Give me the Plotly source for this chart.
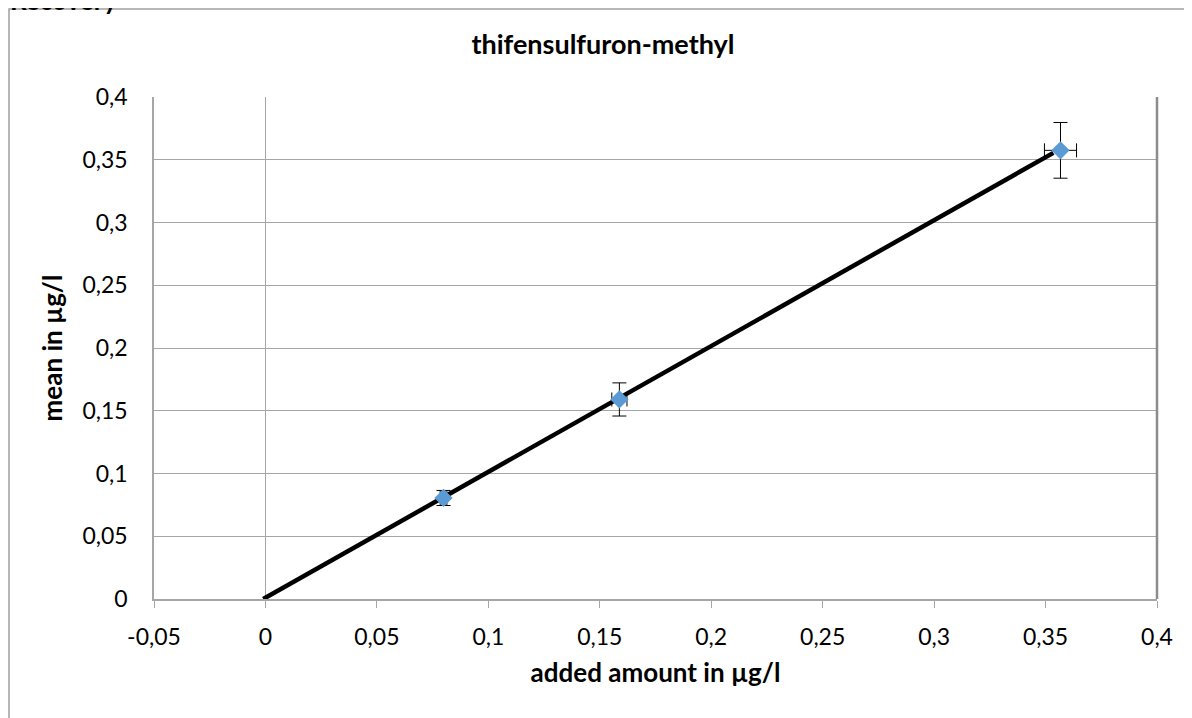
import plotly.graph_objects as go

# --- data ---
added = [0.0799, 0.1588, 0.3567]
mean = [0.0805, 0.1590, 0.3575]
err_y = [0.0060, 0.0132, 0.0222]
err_x = [0.0015, 0.0034, 0.0072]

fit_x = [-0.001, 0.3535]
fit_y = [0.0, 0.3555]

x_ticks = [-0.05, 0, 0.05, 0.1, 0.15, 0.2, 0.25, 0.3, 0.35, 0.4]
x_labels = ["-0,05", "0", "0,05", "0,1", "0,15", "0,2", "0,25", "0,3", "0,35", "0,4"]
y_ticks = [0, 0.05, 0.1, 0.15, 0.2, 0.25, 0.3, 0.35, 0.4]
y_labels = ["0", "0,05", "0,1", "0,15", "0,2", "0,25", "0,3", "0,35", "0,4"]

FONT = "Lato"
GRID = "#a6a6a6"

# the page puts the figure 8px in from the top-left corner
W, H = 1184, 710
ML, MT, MR, MB = 146, 89, 35, 119
pw, ph = W - ML - MR, H - MT - MB

fig = go.Figure()
fig.add_trace(go.Scatter(
    x=fit_x, y=fit_y, mode="lines",
    line=dict(color="black", width=4.5), hoverinfo="skip", showlegend=False
))
fig.add_trace(go.Scatter(
    x=added, y=mean, mode="markers",
    marker=dict(symbol="diamond", size=14, color="#5b9bd5"),
    error_y=dict(type="data", array=err_y, color="black", thickness=1, width=7),
    error_x=dict(type="data", array=err_x, color="black", thickness=1, width=7),
    showlegend=False
))

# chart-area frame (runs off the right and bottom edge) and cut-off heading
fig.add_shape(type="rect", xref="paper", yref="paper",
              x0=(1 - ML) / pw, x1=(W + 20 - ML) / pw,
              y0=(MT + ph - (H + 20)) / ph, y1=(MT + ph - 1) / ph,
              line=dict(color="#a0a0a0", width=1.5), layer="below")
fig.add_annotation(text="<b>Recovery</b>", xref="paper", yref="paper",
                   x=(0 - ML) / pw, y=(MT + ph - 10) / ph, xanchor="left", yanchor="bottom",
                   showarrow=False, font=dict(family=FONT, size=26, color="black"))

fig.update_layout(
    width=W, height=H,
    margin=dict(l=ML, r=MR, t=MT, b=MB),
    paper_bgcolor="white", plot_bgcolor="white",
    font=dict(family=FONT, size=23, color="black"),
    title=dict(text="<b>thifensulfuron-methyl</b>", x=595 / W, xanchor="center",
               y=1 - 37 / H, yanchor="middle", font=dict(size=27)),
    xaxis=dict(
        range=[-0.05, 0.4], tickvals=x_ticks, ticktext=x_labels,
        showgrid=False, zeroline=True, zerolinecolor=GRID, zerolinewidth=1,
        showline=True, linecolor=GRID, linewidth=1.5,
        ticks="outside", ticklen=7, tickcolor=GRID, ticklabelstandoff=10,
        title=dict(text="<b>added amount in µg/l</b>", font=dict(size=26), standoff=14),
    ),
    yaxis=dict(
        range=[0, 0.4], tickvals=y_ticks, ticktext=y_labels,
        showgrid=True, gridcolor=GRID, gridwidth=1, zeroline=False,
        showline=True, linecolor=GRID, linewidth=1.5,
        ticks="", ticklabelstandoff=20,
        title=dict(text="<b>mean in µg/l</b>", font=dict(size=26), standoff=12),
    ),
    showlegend=False,
)
# right border of plot area
fig.add_shape(type="line", xref="paper", yref="paper", x0=1, x1=1, y0=0, y1=1,
              line=dict(color="#8c8c8c", width=2.5))

fig.write_html("out.html")
